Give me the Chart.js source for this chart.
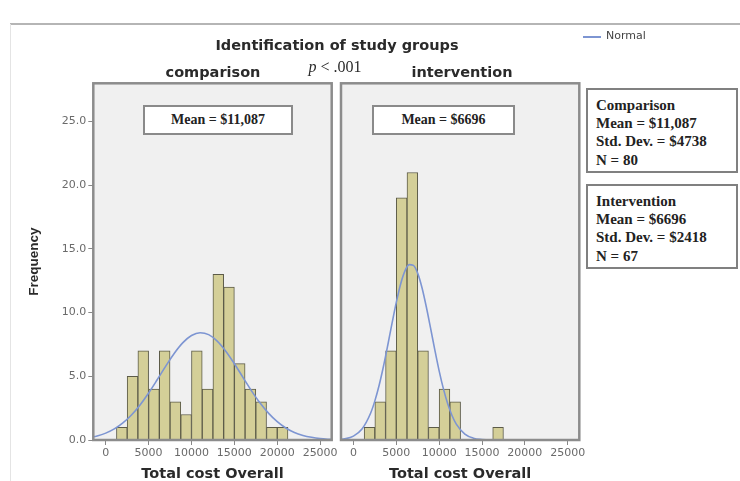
<!DOCTYPE html>
<html>
<head>
<meta charset="utf-8">
<script src="https://cdn.jsdelivr.net/npm/chart.js@4.4.0/dist/chart.umd.min.js"></script>
<style>
    body { margin: 0; background: #fff; }
    #wrap { position: relative; width: 740px; height: 481px; overflow: hidden; font-family: 'DejaVu Sans', sans-serif; }
    canvas { position: absolute; top: 0; }
    .lbl { position: absolute; transform: translate(-50%, -50%); white-space: nowrap; font-weight: bold; font-size: 14.5px; color: #2a2a2a; z-index: 2; }
    .meanbox { position: absolute; box-sizing: border-box; height: 30px; top: 105px; background: #fff; border: 2px solid #8a8a8a;
        font: bold 14px 'Liberation Serif', serif; color: #222; display: flex; align-items: center; justify-content: center; z-index: 2; }
    .stat { position: absolute; left: 586px; width: 152px; height: 85px; box-sizing: border-box; background: #fff; border: 2px solid #808080;
        padding: 6px 8px 0; font: bold 15px/18.2px 'Liberation Serif', serif; color: #222; z-index: 2; }
</style>
</head>
<body>
<div id="wrap">
    <div style="position:absolute;left:10px;top:23px;width:730px;height:1.5px;background:#b5b5b5;"></div>
    <div style="position:absolute;left:10px;top:24px;width:1px;height:457px;background:#e4e4e4;"></div>

    <canvas id="cmpChart" width="350" height="481" style="left:0;width:350px;height:481px;"></canvas>
    <canvas id="intChart" width="410" height="481" style="left:330px;width:410px;height:481px;"></canvas>

    <div class="lbl" style="left:337px;top:45px;">Identification of study groups</div>
    <div class="lbl" style="left:213px;top:72px;">comparison</div>
    <div class="lbl" style="left:462px;top:72px;">intervention</div>
    <div class="lbl" style="left:335px;top:67px;font:16px 'Liberation Serif',serif;"><i>p</i> &lt; .001</div>

    <div style="position:absolute;left:583px;top:36px;width:18px;height:1.5px;background:#7d95d2;"></div>
    <div style="position:absolute;left:606px;top:29px;font-size:11px;color:#444;">Normal</div>

    <div class="meanbox" style="left:143px;width:150px;">Mean = $11,087</div>
    <div class="meanbox" style="left:372px;width:143px;">Mean = $6696</div>

    <div class="stat" style="top:88px;">Comparison<br>Mean = $11,087<br>Std. Dev. = $4738<br>N = 80</div>
    <div class="stat" style="top:184px;">Intervention<br>Mean = $6696<br>Std. Dev. = $2418<br>N = 67</div>
</div>

<script>
// histogram bins (lower edge of each bar), all bars are 1250 wide
var binWidth = 1250;
var cmpBinStart = [1250, 2500, 3750, 5000, 6250, 7500, 8750, 10000, 11250, 12500, 13750, 15000, 16250, 17500, 18750, 20000];
var cmpCounts = [1, 5, 7, 4, 7, 3, 2, 7, 4, 13, 12, 6, 4, 3, 1, 1];
var intBinStart = [1250, 2500, 3750, 5000, 6250, 7500, 8750, 10000, 11250, 16250];
var intCounts = [1, 3, 7, 19, 21, 7, 1, 4, 3, 1];

// normal curves
var cmpCurveX = [-2000, -1000, 0, 1000, 2000, 3000, 4000, 5000, 6000, 7000, 8000, 9000, 10000, 11000, 12000, 13000, 14000, 15000, 16000, 17000, 18000, 19000, 20000, 21000, 22000, 23000, 24000, 25000, 26000, 27000];
var cmpCurveY = [0.19, 0.32, 0.54, 0.87, 1.34, 1.96, 2.75, 3.69, 4.73, 5.80, 6.81, 7.64, 8.20, 8.42, 8.27, 7.76, 6.97, 5.99, 4.92, 3.86, 2.90, 2.09, 1.44, 0.94, 0.59, 0.36, 0.21, 0.11, 0.06, 0.03];
var intCurveX = [-2000, -1000, 0, 1000, 2000, 2500, 3000, 3500, 4000, 4500, 5000, 5500, 6000, 6500, 7000, 7500, 8000, 8500, 9000, 9500, 10000, 10500, 11000, 11500, 12000, 13000, 14000, 15000, 16000, 27000];
var intCurveY = [0.02, 0.09, 0.30, 0.86, 2.10, 3.07, 4.30, 5.77, 7.42, 9.15, 10.8, 12.23, 13.26, 13.77, 13.71, 13.08, 11.95, 10.46, 8.78, 7.06, 5.43, 4.01, 2.84, 1.92, 1.25, 0.46, 0.14, 0.04, 0.01, 0];

var xTickValues = [0, 5000, 10000, 15000, 20000, 25000];
var yTickValues = [0, 5, 10, 15, 20, 25];
var xTitle = 'Total cost Overall';
var yTitle = 'Frequency';

Chart.defaults.font.family = "'DejaVu Sans', sans-serif";

var panelPlugin = {
    id: 'panel',
    beforeDraw: function (chart) {
        var a = chart.chartArea, ctx = chart.ctx;
        ctx.save();
        ctx.fillStyle = '#f0f0f0';
        ctx.fillRect(a.left, a.top, a.right - a.left, a.bottom - a.top);
        ctx.restore();
    },
    afterDatasetsDraw: function (chart) {
        var a = chart.chartArea, ctx = chart.ctx;
        ctx.save();
        ctx.strokeStyle = '#8c8c8c';
        ctx.lineWidth = 2.5;
        ctx.strokeRect(a.left, a.top, a.right - a.left, a.bottom - a.top);
        ctx.restore();
    }
};

function makeChart(id, starts, counts, cx, cy, withYAxis, pad) {
    var bars = starts.map(function (s, i) { return { x: s + binWidth / 2, y: counts[i] }; });
    var curve = cx.map(function (x, i) { return { x: x, y: cy[i] }; });

    return new Chart(document.getElementById(id), {
        type: 'bar',
        data: {
            datasets: [
                {
                    type: 'line',
                    label: 'Normal',
                    data: curve,
                    borderColor: '#7d95d2',
                    borderWidth: 1.6,
                    pointRadius: 0,
                    cubicInterpolationMode: 'monotone',
                    order: 0
                },
                {
                    type: 'bar',
                    data: bars,
                    backgroundColor: '#d4cf98',
                    borderColor: '#5c5b48',
                    borderWidth: 1,
                    barPercentage: 1,
                    categoryPercentage: 1,
                    order: 1
                }
            ]
        },
        options: {
            responsive: false,
            animation: false,
            devicePixelRatio: 1,
            layout: { padding: pad },
            plugins: { legend: { display: false }, tooltip: { enabled: false } },
            scales: {
                x: {
                    type: 'linear',
                    min: -1450,
                    max: 26350,
                    offset: false,
                    afterBuildTicks: function (s) { s.ticks = xTickValues.map(function (v) { return { value: v }; }); },
                    afterFit: function (s) { s.height = 41; },
                    grid: { drawOnChartArea: false, offset: false, tickLength: 5, color: '#888' },
                    border: { display: false },
                    ticks: {
                        padding: 2, color: '#6a6a6a', font: { size: 11 }, maxRotation: 0, autoSkip: false,
                        callback: function (v) { return String(v); }
                    },
                    title: { display: true, text: xTitle, color: '#2a2a2a', font: { size: 14.5, weight: 'bold', lineHeight: 1 }, padding: 0 }
                },
                y: {
                    display: withYAxis,
                    min: 0,
                    max: 28,
                    afterBuildTicks: function (s) { s.ticks = yTickValues.map(function (v) { return { value: v }; }); },
                    afterFit: function (s) { s.width = withYAxis ? 93.3 : 0; },
                    grid: { drawOnChartArea: false, tickLength: 5, color: '#888' },
                    border: { display: false },
                    ticks: {
                        padding: 2, color: '#6a6a6a', font: { size: 11 },
                        callback: function (v) { return v.toFixed(1); }
                    },
                    title: {
                        display: true, text: yTitle, color: '#2a2a2a',
                        font: { family: "'Liberation Sans', sans-serif", size: 13.5, weight: 'bold', lineHeight: 1 },
                        padding: { top: 28, bottom: 0 }
                    }
                }
            }
        },
        plugins: [panelPlugin]
    });
}

makeChart('cmpChart', cmpBinStart, cmpCounts, cmpCurveX, cmpCurveY, true, { left: 0, top: 83.3, right: 18.3, bottom: 0 });
makeChart('intChart', intBinStart, intCounts, intCurveX, intCurveY, false, { left: 11, top: 83.3, right: 160.7, bottom: 0 });
</script>
</body>
</html>
